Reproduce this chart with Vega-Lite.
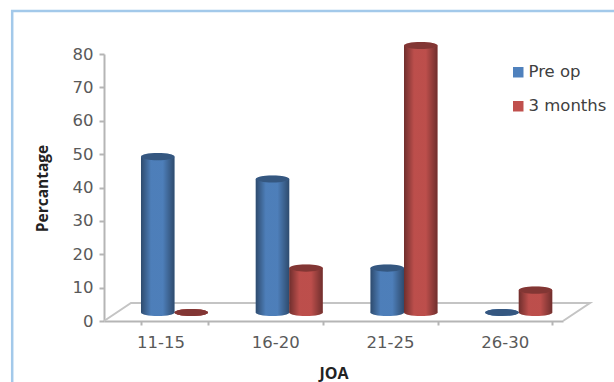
{
  "$schema": "https://vega.github.io/schema/vega-lite/v6.json",
  "autosize": "none",
  "width": 459,
  "height": 267,
  "padding": {"left": 104, "top": 54, "right": 51, "bottom": 61},
  "background": "white",
  "view": {"stroke": null},
  "config": {"font": "DejaVu Sans"},
  "datasets": {
    "outcomes": [
      {"joa": "11-15", "visit": "Pre op", "percent": 46.7},
      {"joa": "11-15", "visit": "3 months", "percent": 0},
      {"joa": "16-20", "visit": "Pre op", "percent": 40},
      {"joa": "16-20", "visit": "3 months", "percent": 13.3},
      {"joa": "21-25", "visit": "Pre op", "percent": 13.3},
      {"joa": "21-25", "visit": "3 months", "percent": 80},
      {"joa": "26-30", "visit": "Pre op", "percent": 0},
      {"joa": "26-30", "visit": "3 months", "percent": 6.7}
    ],
    "floor": [
      {"seq": 1, "pos": 0, "level": 0},
      {"seq": 2, "pos": 0.235, "level": 5.4},
      {"seq": 3, "pos": 4.235, "level": 5.4},
      {"seq": 4, "pos": 4, "level": 0}
    ],
    "frame": [
      {"seq": 1, "pos": -0.8, "level": -25},
      {"seq": 2, "pos": -0.8, "level": 92.9},
      {"seq": 3, "pos": 4.6, "level": 92.9}
    ]
  },
  "layer": [
    {
      "data": {"name": "frame"},
      "mark": {"type": "line", "color": "#a3c9ea", "strokeWidth": 2.5, "clip": false},
      "encoding": {
        "x": {"field": "pos", "type": "quantitative", "axis": null, "scale": {"domain": [0, 4], "nice": false, "zero": false}},
        "y": {"field": "level", "type": "quantitative", "scale": {"domain": [0, 80], "nice": false}, "axis": null},
        "order": {"field": "seq"}
      }
    },
    {
      "data": {"name": "floor"},
      "mark": {"type": "line", "color": "#c4c4c4", "strokeWidth": 2, "clip": false},
      "encoding": {
        "x": {"field": "pos", "type": "quantitative", "axis": null, "scale": {"domain": [0, 4], "nice": false, "zero": false}},
        "y": {"field": "level", "type": "quantitative", "axis": null},
        "order": {"field": "seq"}
      }
    },
    {
      "data": {"name": "outcomes"},
      "encoding": {
        "x": {
          "field": "joa",
          "type": "nominal",
          "title": "JOA",
          "scale": {"paddingInner": 0.416, "paddingOuter": 0.208, "align": 0.775},
          "axis": {
            "labelAngle": 0,
            "labelFontSize": 16.5,
            "labelColor": "#595959",
            "labelPadding": 9,
            "labelOffset": -14,
            "tickBand": "extent",
            "tickOffset": -14,
            "tickSize": 4,
            "tickWidth": 2,
            "tickColor": "#b5b5b5",
            "domainColor": "#b5b5b5",
            "domainWidth": 2,
            "titleFont": "Open Sans",
            "titleFontSize": 16,
            "titleFontWeight": "bold",
            "titleColor": "#222222",
            "titleY": 44
          }
        },
        "xOffset": {"field": "visit", "type": "nominal", "sort": ["Pre op", "3 months"], "scale": {"paddingInner": 0, "paddingOuter": 0}},
        "y": {
          "field": "percent",
          "type": "quantitative",
          "title": "Percantage",
          "scale": {"domain": [0, 80], "nice": false},
          "axis": {
            "values": [0, 10, 20, 30, 40, 50, 60, 70, 80],
            "grid": false,
            "labelFontSize": 16.5,
            "labelColor": "#595959",
            "labelPadding": 6,
            "tickSize": 5,
            "tickWidth": 2,
            "tickColor": "#b5b5b5",
            "domainColor": "#b5b5b5",
            "domainWidth": 2,
            "titleFont": "Open Sans",
            "titleFontSize": 15.5,
            "titleFontWeight": "bold",
            "titleColor": "#222222",
            "titleX": -54,
            "titleY": 134
          }
        },
        "color": {
          "field": "visit",
          "type": "nominal",
          "sort": ["Pre op", "3 months"],
          "scale": {"domain": ["Pre op", "3 months"], "range": ["#4f81bd", "#c0504d"]},
          "title": null,
          "legend": {
            "orient": "none",
            "legendX": 406,
            "legendY": 10,
            "symbolType": "square",
            "symbolSize": 110,
            "symbolOpacity": 1,
            "labelFontSize": 16.5,
            "labelColor": "#404040",
            "rowPadding": 17,
            "labelOffset": 2
          }
        }
      },
      "layer": [
        {"mark": {"type": "point", "filled": true, "opacity": 1, "shape": "M-1,0A1,0.21,0,1,1,1,0A1,0.21,0,1,1,-1,0Z", "size": 1122, "yOffset": -8.5},
         "encoding": {"y": {"datum": 0}}},
        {"mark": {"type": "point", "filled": true, "opacity": 1, "shape": "M-1,0A1,0.21,0,1,1,1,0A1,0.21,0,1,1,-1,0Z", "size": 1122, "yOffset": -8.5},
         "encoding": {"y": {"datum": 0}, "color": {"value": {
          "gradient": "linear", "x1": 0, "y1": 0, "x2": 1, "y2": 0,
          "stops": [
            {"offset": 0, "color": "rgba(0,0,0,0.42)"},
            {"offset": 0.3, "color": "rgba(0,0,0,0.02)"},
            {"offset": 0.65, "color": "rgba(0,0,0,0.02)"},
            {"offset": 1, "color": "rgba(0,0,0,0.42)"}
          ]}}}},
        {"mark": {"type": "bar", "yOffset": -8.5}},
        {"mark": {"type": "bar", "yOffset": -8.5},
         "encoding": {"color": {"value": {
          "gradient": "linear", "x1": 0, "y1": 0, "x2": 1, "y2": 0,
          "stops": [
            {"offset": 0, "color": "rgba(0,0,0,0.42)"},
            {"offset": 0.3, "color": "rgba(0,0,0,0.02)"},
            {"offset": 0.65, "color": "rgba(0,0,0,0.02)"},
            {"offset": 1, "color": "rgba(0,0,0,0.42)"}
          ]}}}},
        {"mark": {"type": "point", "filled": true, "opacity": 1, "shape": "M-1,0A1,0.21,0,1,1,1,0A1,0.21,0,1,1,-1,0Z", "size": 1122, "yOffset": -8.5}},
        {"mark": {"type": "point", "filled": true, "opacity": 0.32, "shape": "M-1,0A1,0.21,0,1,1,1,0A1,0.21,0,1,1,-1,0Z", "size": 1122, "yOffset": -8.5},
         "encoding": {"color": {"value": "black"}}}
      ]
    }
  ],
  "resolve": {"scale": {"x": "independent"}, "axis": {"y": "independent"}}
}
